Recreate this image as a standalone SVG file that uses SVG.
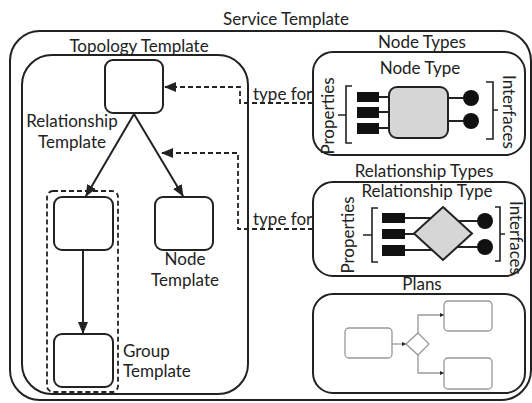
<svg xmlns="http://www.w3.org/2000/svg" width="532" height="403" viewBox="0 0 532 403">
<style>
.box{fill:none;stroke:#222;stroke-width:2}
.node{fill:#fff;stroke:#222;stroke-width:2}
.t{font-family:Lato,"Liberation Sans",sans-serif;font-size:17px;fill:#222}
.m{text-anchor:middle}
.dash{fill:none;stroke:#222;stroke-width:1.8;stroke-dasharray:5,3}
.line{fill:none;stroke:#222;stroke-width:2}
.thin{fill:none;stroke:#222;stroke-width:1.6}
.grey{fill:#fff;stroke:#999;stroke-width:1.3}
.gline{fill:none;stroke:#999;stroke-width:1.3}
.prop{fill:#111}
.iface{fill:#111}
</style>
<defs>
<marker id="ah" markerWidth="12" markerHeight="10" refX="11" refY="5" orient="auto" markerUnits="userSpaceOnUse">
<path d="M0,0 L12,5 L0,10 Z" fill="#222"/>
</marker>
<marker id="sm" markerWidth="4" markerHeight="4" refX="4" refY="2" orient="auto" markerUnits="userSpaceOnUse">
<path d="M0,0 L4,2 L0,4 Z" fill="#222"/>
</marker>
</defs>

<g id="service-template">
<rect class="box" x="10" y="31" width="521" height="369" rx="30"/>
<text class="t m" x="286" y="25">Service Template</text>
</g>

<g id="topology-template">
<rect class="box" x="22" y="55" width="226" height="339" rx="30"/>
<text class="t m" x="139" y="52">Topology Template</text>
</g>

<g id="group-template">
<rect class="dash" x="47" y="191" width="71" height="201" rx="6"/>
<text class="t" x="123" y="357">Group</text>
<text class="t" x="123" y="377">Template</text>
</g>

<g id="top-node">
<rect class="node" x="105" y="60" width="58" height="53" rx="8"/>
</g>
<g id="left-node">
<rect class="node" x="54" y="197" width="59" height="53" rx="8"/>
</g>
<g id="node-template">
<rect class="node" x="155" y="197" width="58" height="53" rx="8"/>
<text class="t m" x="185" y="265">Node</text>
<text class="t m" x="185" y="286">Template</text>
</g>
<g id="bottom-node">
<rect class="node" x="54" y="334" width="59" height="53" rx="8"/>
</g>
<g id="relationship-template-label">
<text class="t m" x="72" y="127">Relationship</text>
<text class="t m" x="72" y="148">Template</text>
</g>

<g id="node-types">
<rect class="box" x="313" y="52" width="212" height="103" rx="20"/>
<text class="t m" x="422" y="48">Node Types</text>
<text class="t m" x="420" y="74">Node Type</text>
<text class="t m" transform="translate(334,116) rotate(-90)">Properties</text>
<text class="t m" transform="translate(503,112) rotate(90)">Interfaces</text>
<path class="thin" d="M352,86 H346 V143 H352 M346,115 H338"/>
<path class="thin" d="M486,82 H493 V139 H486 M493,110 H498"/>
<path class="line" d="M379,97 H390 M379,112 H390 M379,128 H390 M448,98 H464 M448,121 H464"/>
<rect class="prop" x="357" y="92" width="22" height="10"/>
<rect class="prop" x="357" y="107" width="22" height="11"/>
<rect class="prop" x="357" y="123" width="22" height="11"/>
<rect x="389" y="87" width="59" height="51" rx="8" fill="#d6d6d6" stroke="#222" stroke-width="2"/>
<circle class="iface" cx="471" cy="98" r="8"/>
<circle class="iface" cx="471" cy="121" r="8"/>
</g>

<g id="relationship-types">
<rect class="box" x="313" y="182" width="212" height="94" rx="20"/>
<text class="t m" x="424" y="177">Relationship Types</text>
<text class="t m" x="427" y="197">Relationship Type</text>
<text class="t m" transform="translate(354,235) rotate(-90)">Properties</text>
<text class="t m" transform="translate(510,238) rotate(90)">Interfaces</text>
<path class="thin" d="M378,208 H372 V262 H378 M372,235 H363"/>
<path class="thin" d="M495,207 H500 V261 H495 M500,234 H505"/>
<path class="line" d="M405,218 H432 M405,234 H416 M405,250 H432 M457,221 H478 M457,247 H478"/>
<rect class="prop" x="382" y="213" width="23" height="10"/>
<rect class="prop" x="382" y="229" width="23" height="10"/>
<rect class="prop" x="382" y="245" width="23" height="11"/>
<path d="M443,207 L472,233.5 L443,260 L414,233.5 Z" fill="#d6d6d6" stroke="#222" stroke-width="2" stroke-linejoin="miter"/>
<circle class="iface" cx="485" cy="221" r="8"/>
<circle class="iface" cx="485" cy="247" r="8"/>
</g>

<g id="plans">
<rect class="box" x="313" y="294" width="212" height="99" rx="20"/>
<text class="t m" x="422" y="290">Plans</text>
<rect class="grey" x="345" y="328" width="47" height="30" rx="4"/>
<path class="grey" d="M418,333 L429,344 L418,355 L406,344 Z"/>
<rect class="grey" x="444" y="301" width="48" height="30" rx="4"/>
<rect class="grey" x="444" y="358" width="48" height="31" rx="4"/>
<path class="gline" d="M392,344 H406" marker-end="url(#sm)"/>
<path class="gline" d="M418,333 V315 H444" marker-end="url(#sm)"/>
<path class="gline" d="M418,355 V373 H444" marker-end="url(#sm)"/>
</g>

<g id="connectors">
<path class="line" d="M134,114 L86,196" marker-end="url(#ah)"/>
<path class="line" d="M134,114 L183,196" marker-end="url(#ah)"/>
<path class="line" d="M83,250 L83,333" marker-end="url(#ah)"/>
<path class="dash" d="M313,103 H240 V87 H165" marker-end="url(#ah)"/>
<path class="dash" d="M313,229 H238 V153 H162" marker-end="url(#ah)"/>
<text class="t" x="253" y="100">type for</text>
<text class="t" x="253" y="225">type for</text>
</g>
</svg>
